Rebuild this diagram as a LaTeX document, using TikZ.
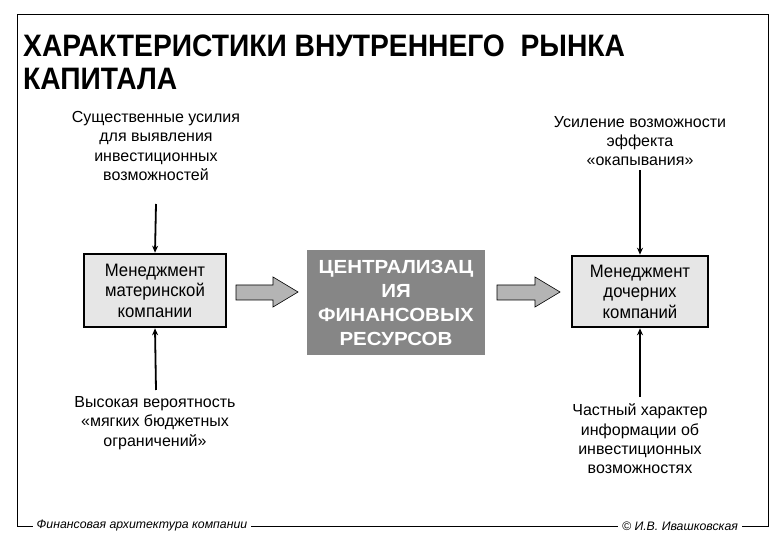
\documentclass[tikz,border=0pt]{standalone}
\usepackage{fontspec}
\setmainfont{Liberation Sans}
\newfontfamily\titlefont[FakeStretch=0.91]{Liberation Sans}
\newfontfamily\narrowfont[FakeStretch=0.93]{Liberation Sans}
\newfontfamily\widefont[FakeStretch=1.08]{Liberation Sans}
\usetikzlibrary{arrows.meta}
\definecolor{boxfill}{HTML}{E6E6E6}
\definecolor{centerfill}{HTML}{868686}
\definecolor{blockfill}{HTML}{B4B4B4}
\tikzset{
  note/.style={align=center, inner sep=0pt, font=\fontsize{16}{19.4}\selectfont},
  mgmt/.style={draw, line width=2.6pt, fill=boxfill, align=center, inner sep=0pt,
    font=\narrowfont\fontsize{18}{20.5}\selectfont},
  center/.style={fill=centerfill, text=white, align=center, inner sep=0pt,
    font=\widefont\bfseries\fontsize{19}{24}\selectfont},
  conn/.style={line width=1.8pt, -{Stealth[length=7pt,width=6pt]}},
  blockarrow/.style={draw, line width=0.6pt, fill=blockfill, line join=miter},
  footer/.style={fill=white, inner xsep=4pt, inner ysep=1pt, font=\itshape\fontsize{12.3}{14}\selectfont},
}
\begin{document}
\begin{tikzpicture}[x=1pt,y=-1pt]
\useasboundingbox (0,0) rectangle (780,540);
\fill[white] (0,0) rectangle (780,540);
% frame
\draw[line width=1pt] (17,526) -- (17,15) -- (768,15) -- (768,526) -- cycle;
% title
\node[anchor=base west, align=left, inner sep=0pt,
  font=\titlefont\bfseries\fontsize{31}{33}\selectfont] (title) at (23,90)
  {ХАРАКТЕРИСТИКИ ВНУТРЕННЕГО\ \ РЫНКА\\КАПИТАЛА};
% boxes
\node[mgmt, minimum width=142pt, minimum height=73pt] (mp) at (155,290.5)
  {Менеджмент\\материнской\\компании};
\node[center, minimum width=178pt, minimum height=105pt] (cf) at (396,302.5)
  {ЦЕНТРАЛИЗАЦ\\ИЯ\\ФИНАНСОВЫХ\\РЕСУРСОВ};
\node[mgmt, minimum width=136pt, minimum height=71pt] (ms) at (640,291.5)
  {Менеджмент\\дочерних\\компаний};
% notes
\node[note] (tl) at (156,146) {Существенные усилия\\для выявления\\инвестиционных\\возможностей};
\node[note] (tr) at (640,141) {Усиление возможности\\эффекта\\«окапывания»};
\node[note] (bl) at (155,423) {Высокая вероятность\\«мягких бюджетных\\ограничений»};
\node[note] (br) at (640,439) {Частный характер\\информации об\\инвестиционных\\возможностях};
% connector free ends
\coordinate (tlA) at (156,204);
\coordinate (trA) at (640,170);
\coordinate (blA) at (156,390);
\coordinate (brA) at (640,397);
\draw[conn] (tlA) -- (mp.north);
\draw[conn] (blA) -- (mp.south);
\draw[conn] (trA) -- (ms.north);
\draw[conn] (brA) -- (ms.south);
% block arrows
\draw[blockarrow] (236,285) -- (273,285) -- (273,277) -- (298,292) -- (273,307) -- (273,300) -- (236,300) -- cycle;
\draw[blockarrow] (497,285) -- (535,285) -- (535,277) -- (560,292) -- (535,307) -- (535,300) -- (497,300) -- cycle;
% footer
\node[footer] (fl) at (142,526) {Финансовая архитектура компании};
\node[footer] (fr) at (680,526) {© И.В. Ивашковская};
\end{tikzpicture}
\end{document}
